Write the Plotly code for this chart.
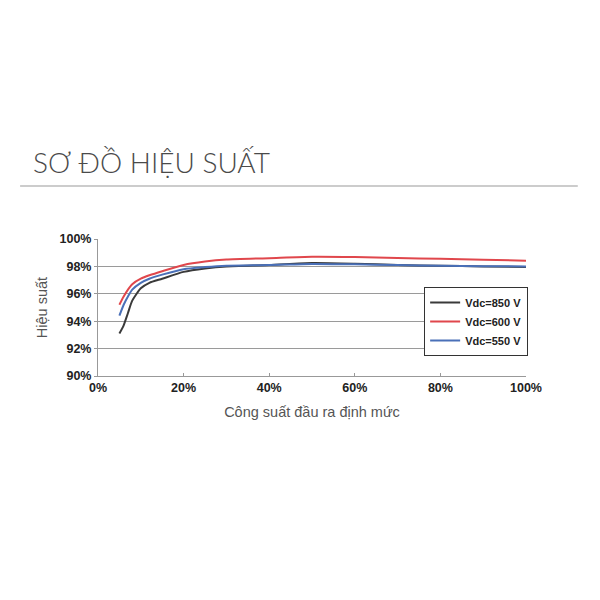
import plotly.graph_objects as go

load_pct = [5, 6, 7, 8, 10, 12, 15, 20, 25, 30, 40, 50, 60, 70, 80, 90, 100]
eff_850 = [93.1, 93.7, 94.6, 95.5, 96.4, 96.8, 97.1, 97.6, 97.85, 98.0, 98.1, 98.25, 98.2, 98.1, 98.05, 98.0, 97.95]
eff_600 = [95.2, 95.8, 96.3, 96.7, 97.1, 97.35, 97.65, 98.1, 98.35, 98.5, 98.6, 98.7, 98.68, 98.62, 98.55, 98.48, 98.42]
eff_550 = [94.4, 95.2, 95.8, 96.3, 96.8, 97.1, 97.4, 97.8, 97.95, 98.05, 98.1, 98.18, 98.15, 98.1, 98.05, 98.02, 98.0]

series_names = ["Vdc=850 V", "Vdc=600 V", "Vdc=550 V"]
series_colors = ["#3a3a3a", "#e0474c", "#4a70b8"]

x_ticks = [0, 20, 40, 60, 80, 100]
x_labels = ["0%", "20%", "40%", "60%", "80%", "100%"]
y_ticks = [90, 92, 94, 96, 98, 100]
y_labels = ["90%", "92%", "94%", "96%", "98%", "100%"]

fig = go.Figure()
for name, ys, col in zip(series_names, [eff_850, eff_600, eff_550], series_colors):
    fig.add_trace(go.Scatter(x=load_pct, y=ys, mode="lines", name=name,
                             line=dict(color=col, width=2, shape="spline", smoothing=0.6)))

tick_font = dict(family="Liberation Sans, Arial", size=12.5, color="#222")
fig.update_layout(
    width=592, height=592,
    paper_bgcolor="white", plot_bgcolor="white",
    margin=dict(l=90, r=74, t=231, b=224),
    showlegend=True,
    legend=dict(x=1.005, y=0.398, xanchor="right", yanchor="middle",
                bgcolor="white", bordercolor="#333", borderwidth=1,
                font=dict(family="Liberation Sans, Arial", size=11, color="#222", weight="bold"),
                tracegroupgap=0, itemwidth=30),
    xaxis=dict(range=[0, 100], tickvals=x_ticks, ticktext=x_labels, showgrid=False,
               showline=True, linecolor="#999", linewidth=1, ticks="inside", ticklen=3,
               tickcolor="#999", tickfont=dict(**tick_font, weight="bold"), zeroline=False,
               title=dict(text="Công suất đầu ra định mức",
                          font=dict(family="Liberation Sans, Arial", size=14.5, color="#555"),
                          standoff=12)),
    yaxis=dict(range=[90, 100], tickvals=y_ticks, ticktext=y_labels, showgrid=True,
               gridcolor="#9a9a9a", gridwidth=1, showline=True, linecolor="#999",
               ticks="outside", ticklen=3, tickcolor="#999",
               tickfont=dict(**tick_font, weight="bold"), zeroline=False,
               title=dict(text="Hiệu suất",
                          font=dict(family="Liberation Sans, Arial", size=14.5, color="#555"),
                          standoff=8)),
)

fig.add_annotation(text="SƠ ĐỒ HIỆU SUẤT", xref="paper", yref="paper",
                   x=-0.157, y=1.562, xanchor="left", yanchor="middle",
                   showarrow=False,
                   font=dict(family="Lato, Open Sans", size=28, color="#4a4a4a", weight=300))
fig.add_shape(type="line", xref="paper", yref="paper",
              x0=-0.182, x1=1.121, y0=1.387, y1=1.387,
              line=dict(color="#cccccc", width=2))

fig.write_html("out.html")
